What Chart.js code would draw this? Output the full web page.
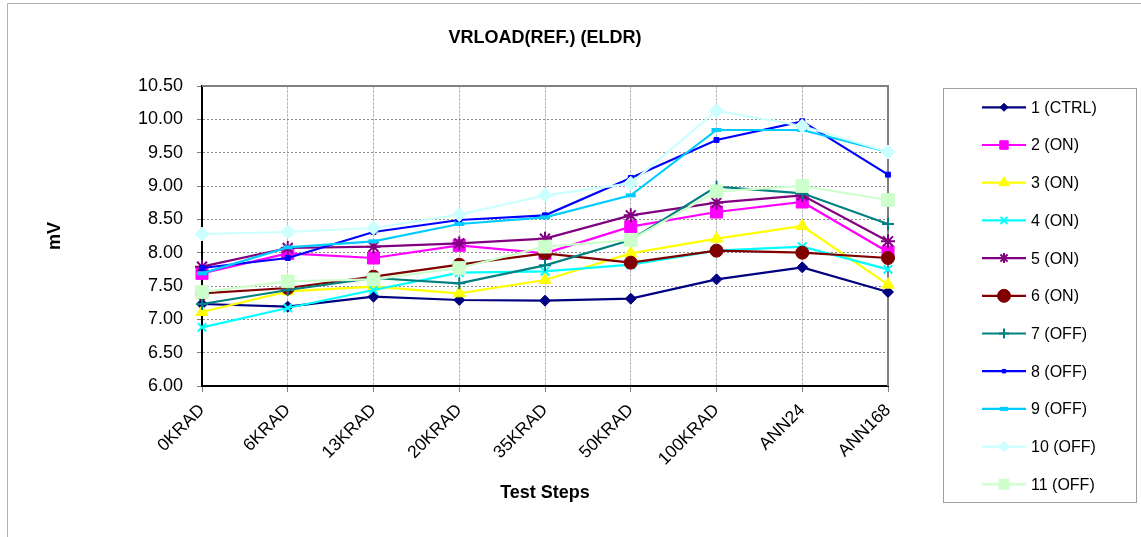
<!DOCTYPE html>
<html>
<head>
<meta charset="utf-8">
<script src="https://cdn.jsdelivr.net/npm/chart.js@4/dist/chart.umd.min.js"></script>
<style>
  html, body { margin: 0; padding: 0; background: #fff; }
  canvas { display: block; }
</style>
</head>
<body>
<canvas id="c" width="1141" height="537"></canvas>
<script>
const categories = ['0KRAD', '6KRAD', '13KRAD', '20KRAD', '35KRAD', '50KRAD', '100KRAD', 'ANN24', 'ANN168'];
const seriesNames = ['1 (CTRL)', '2 (ON)', '3 (ON)', '4 (ON)', '5 (ON)', '6 (ON)', '7 (OFF)', '8 (OFF)', '9 (OFF)', '10 (OFF)', '11 (OFF)'];
const s1 = [7.23, 7.19, 7.34, 7.29, 7.28, 7.31, 7.60, 7.78, 7.41];
const s2 = [7.69, 7.99, 7.92, 8.11, 7.99, 8.39, 8.61, 8.76, 8.01];
const s3 = [7.11, 7.42, 7.49, 7.39, 7.59, 7.99, 8.21, 8.40, 7.52];
const s4 = [6.88, 7.17, 7.44, 7.70, 7.72, 7.82, 8.03, 8.09, 7.75];
const s5 = [7.79, 8.07, 8.09, 8.14, 8.21, 8.56, 8.75, 8.86, 8.17];
const s6 = [7.39, 7.47, 7.64, 7.82, 7.99, 7.85, 8.03, 8.00, 7.92];
const s7 = [7.23, 7.44, 7.62, 7.54, 7.81, 8.19, 8.99, 8.89, 8.43];
const s8 = [7.77, 7.92, 8.31, 8.49, 8.56, 9.12, 9.69, 9.97, 9.17];
const s9 = [7.69, 8.08, 8.17, 8.43, 8.53, 8.86, 9.84, 9.84, 9.51];
const s10 = [8.28, 8.31, 8.37, 8.57, 8.86, 9.04, 10.13, 9.90, 9.51];
const s11 = [7.41, 7.57, 7.60, 7.77, 8.09, 8.19, 8.92, 9.00, 8.79];
const yTicks = { min: 6.0, max: 10.5, step: 0.5 };

const allSeries = [s1, s2, s3, s4, s5, s6, s7, s8, s9, s10, s11];
const colors = ['#000080', '#FF00FF', '#FFFF00', '#00FFFF', '#800080', '#800000', '#008080', '#0000FF', '#00CCFF', '#CCFFFF', '#CCFFCC'];
const styles = ['rectRot', 'rect', 'triangle', 'crossRot', 'star', 'circle', 'cross', 'rect', 'line', 'rectRot', 'rect'];
const radii = [5.5, 8.5, 7, 6, 7, 6.5, 6, 3.5, 5, 7, 9];
const pbw = [1, 1, 1, 2, 2, 1, 2, 1, 4, 1, 1];
const legendRadii = [4, 6, 6, 5, 5, 6.5, 5, 2.5, 4, 5, 7];

const FONT = "'Liberation Sans', Arial, sans-serif";

const datasets = allSeries.map((d, i) => ({
  label: seriesNames[i],
  data: d,
  borderColor: colors[i],
  backgroundColor: colors[i],
  pointBackgroundColor: colors[i],
  pointBorderColor: colors[i],
  pointStyle: styles[i],
  pointRadius: radii[i],
  pointBorderWidth: pbw[i],
  borderWidth: 2.2,
  tension: 0,
  order: 11 - i
}));

const frame = {
  id: 'frame',
  beforeDraw(chart) {
    const ctx = chart.ctx;
    ctx.save();
    ctx.fillStyle = '#fff';
    ctx.fillRect(0, 0, chart.width, chart.height);
    ctx.strokeStyle = '#b0b0b0';
    ctx.lineWidth = 1;
    ctx.beginPath();
    ctx.moveTo(7.5, chart.height);
    ctx.lineTo(7.5, 3.5);
    ctx.lineTo(chart.width, 3.5);
    ctx.stroke();
    ctx.restore();
  },
  beforeDatasetsDraw(chart) {
    const ctx = chart.ctx, a = chart.chartArea;
    ctx.save();
    ctx.strokeStyle = '#808080';
    ctx.lineWidth = 2;
    ctx.beginPath();
    ctx.moveTo(a.left, a.top);
    ctx.lineTo(a.right, a.top);
    ctx.lineTo(a.right, a.bottom);
    ctx.stroke();
    ctx.restore();
  },
  afterDraw(chart) {
    const ctx = chart.ctx;
    ctx.save();
    ctx.strokeStyle = '#a0a0a0';
    ctx.lineWidth = 1;
    ctx.strokeRect(943.5, 88.5, 193, 414);
    chart.data.datasets.forEach((ds, i) => {
      const y = 107.3 + i * 37.7;
      ctx.strokeStyle = ds.borderColor;
      ctx.lineWidth = 2.2;
      ctx.setLineDash([]);
      ctx.beginPath();
      ctx.moveTo(982, y);
      ctx.lineTo(1026, y);
      ctx.stroke();
      ctx.fillStyle = ds.pointBackgroundColor;
      ctx.strokeStyle = ds.pointBorderColor;
      ctx.lineWidth = ds.pointBorderWidth;
      Chart.helpers.drawPoint(ctx, { pointStyle: ds.pointStyle, radius: legendRadii[i], rotation: 0, borderWidth: ds.pointBorderWidth }, 1004, y);
      ctx.fillStyle = '#000';
      ctx.font = '16px ' + FONT;
      ctx.textAlign = 'left';
      ctx.textBaseline = 'middle';
      ctx.fillText(ds.label, 1031, y + 1);
    });
    ctx.restore();
  }
};

new Chart(document.getElementById('c'), {
  type: 'line',
  data: { labels: categories, datasets },
  plugins: [frame],
  options: {
    responsive: false,
    animation: false,
    devicePixelRatio: 1,
    layout: { padding: { left: 0, right: 253, top: 0, bottom: 0 } },
    plugins: {
      legend: { display: false },
      tooltip: { enabled: false },
      title: {
        display: true,
        fullSize: false,
        text: 'VRLOAD(REF.) (ELDR)',
        color: '#000',
        font: { family: FONT, size: 18, weight: 'bold' },
        padding: { top: 27.2, bottom: 37.2 }
      }
    },
    scales: {
      x: {
        offset: false,
        afterFit: s => { s.height = 151; },
        grid: { color: '#b8b8b8', lineWidth: 1, tickLength: 6, tickColor: '#808080', drawOnChartArea: true },
        border: { color: '#000', width: 2, dash: [3, 1] },
        ticks: {
          color: '#000', font: { family: FONT, size: 17.5 },
          maxRotation: 45, minRotation: 45, padding: 8, autoSkip: false
        },
        title: {
          display: true, text: 'Test Steps', color: '#000',
          font: { family: FONT, size: 18, weight: 'bold' },
          padding: { top: 0, bottom: 33.2 }
        }
      },
      y: {
        min: yTicks.min, max: yTicks.max,
        afterFit: s => { s.width = 202; },
        grid: { color: '#8c8c8c', lineWidth: 1, tickLength: 5, tickColor: '#808080' },
        border: { color: '#000', width: 2, dash: [2, 2] },
        ticks: {
          stepSize: yTicks.step, color: '#000', font: { family: FONT, size: 18 }, padding: 14,
          callback: v => Number(v).toFixed(2)
        },
        title: {
          display: true, text: 'mV', color: '#000',
          font: { family: FONT, size: 18, weight: 'bold' },
          padding: { top: 44.2, bottom: 0 }
        }
      }
    }
  }
});
</script>
</body>
</html>
